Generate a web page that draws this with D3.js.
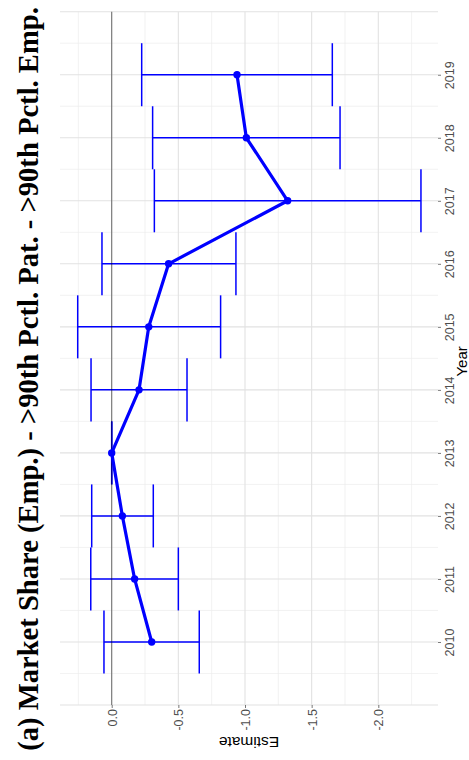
<!DOCTYPE html>
<html>
<head>
<meta charset="utf-8">
<script src="https://cdn.jsdelivr.net/npm/d3@7"></script>
<style>
  body { margin: 0; background: #fff; }
  svg { display: block; }
</style>
</head>
<body>
<script>
// Event-study estimates by year with confidence bounds
const years      = [2010, 2011, 2012, 2013, 2014, 2015, 2016, 2017, 2018, 2019];
const estimates  = [-0.30, -0.172, -0.08, 0.0, -0.205, -0.278, -0.427, -1.32, -1.01, -0.94];
const ciUpper    = [0.058, 0.157, 0.15, 0.0, 0.155, 0.255, 0.073, -0.32, -0.307, -0.225];
const ciLower    = [-0.657, -0.50, -0.312, 0.0, -0.565, -0.817, -0.932, -2.32, -1.713, -1.655];

const yearTicks          = [2010, 2011, 2012, 2013, 2014, 2015, 2016, 2017, 2018, 2019];
const estimateTicks      = [0, -0.5, -1.0, -1.5, -2.0];
const estimateTickLabels = ["0.0", "-0.5", "-1.0", "-1.5", "-2.0"];

const titleText = "(a) Market Share (Emp.) - >90th Pctl. Pat. - >90th Pctl. Emp.";
const yearTitle = "Year";
const estimateTitle = "Estimate";

const W = 469, H = 760;
const svg = d3.select("body").append("svg")
  .attr("width", W).attr("height", H)
  .style("font-family", "'Liberation Sans', Arial, sans-serif");

// The figure is laid out sideways: years run up the page, estimates run leftwards.
const panel = { left: 60, right: 438, top: 11.7, bottom: 705 };
const y = d3.scaleLinear().domain([2009, 2020]).range([panel.bottom, panel.top]);
const x = d3.scaleLinear().domain([0, -2]).range([111.7, 378.3]);

const estMax = x.invert(panel.left);
const estMin = x.invert(panel.right);

const grid = svg.append("g");

// minor grid
const minorYears = d3.range(2009.5, 2020, 1);
grid.selectAll("line.ymin").data(minorYears).join("line")
  .attr("x1", panel.left).attr("x2", panel.right)
  .attr("y1", d => y(d)).attr("y2", d => y(d))
  .attr("stroke", "#ececec").attr("stroke-width", 0.7);
const minorEst = d3.range(0.25, estMin, -0.5).filter(v => v <= estMax);
grid.selectAll("line.xmin").data(minorEst).join("line")
  .attr("x1", d => x(d)).attr("x2", d => x(d))
  .attr("y1", panel.top).attr("y2", panel.bottom)
  .attr("stroke", "#ececec").attr("stroke-width", 0.7);

// major grid
const majorYears = d3.range(2009, 2021, 1);
grid.selectAll("line.ymaj").data(majorYears).join("line")
  .attr("x1", panel.left).attr("x2", panel.right)
  .attr("y1", d => y(d)).attr("y2", d => y(d))
  .attr("stroke", "#e2e2e2").attr("stroke-width", 1.1);
grid.selectAll("line.xmaj").data(estimateTicks).join("line")
  .attr("x1", d => x(d)).attr("x2", d => x(d))
  .attr("y1", panel.top).attr("y2", panel.bottom)
  .attr("stroke", "#e2e2e2").attr("stroke-width", 1.1);

const rows = years.map((yr, i) => ({ yr, est: estimates[i], hi: ciUpper[i], lo: ciLower[i] }));

// error bars
const eb = svg.append("g").attr("stroke", "#0000ff").attr("stroke-width", 1.5).attr("fill", "none");
rows.forEach(d => {
  const g = eb.append("g");
  g.append("line").attr("x1", x(d.hi)).attr("x2", x(d.lo)).attr("y1", y(d.yr)).attr("y2", y(d.yr));
  g.append("line").attr("x1", x(d.hi)).attr("x2", x(d.hi)).attr("y1", y(d.yr - 0.5)).attr("y2", y(d.yr + 0.5));
  g.append("line").attr("x1", x(d.lo)).attr("x2", x(d.lo)).attr("y1", y(d.yr - 0.5)).attr("y2", y(d.yr + 0.5));
});

// reference line at zero
svg.append("line")
  .attr("x1", x(0)).attr("x2", x(0))
  .attr("y1", panel.top).attr("y2", panel.bottom)
  .attr("stroke", "#000").attr("stroke-opacity", 0.5).attr("stroke-width", 1.1);

// estimate path and points
svg.append("path").datum(rows)
  .attr("d", d3.line().x(d => x(d.est)).y(d => y(d.yr)))
  .attr("fill", "none").attr("stroke", "#0000ff").attr("stroke-width", 3.2)
  .attr("stroke-linejoin", "round");
svg.selectAll("circle.pt").data(rows).join("circle")
  .attr("cx", d => x(d.est)).attr("cy", d => y(d.yr)).attr("r", 3.7)
  .attr("fill", "#0000ff");

// year axis (right side)
const yAxis = svg.append("g").attr("transform", `translate(${panel.right},0)`)
  .call(d3.axisRight(y).tickValues(yearTicks).tickFormat(d3.format("d")).tickSize(3).tickPadding(0));
yAxis.select(".domain").remove();
yAxis.selectAll(".tick line").attr("stroke", "#555").attr("stroke-width", 0.8);
yAxis.selectAll(".tick text")
  .attr("x", null).attr("dy", null)
  .attr("transform", "translate(15.5,0) rotate(-90)")
  .attr("text-anchor", "middle")
  .attr("fill", "#4d4d4d").style("font-size", "12.5px");

// estimate axis (bottom)
const xAxis = svg.append("g").attr("transform", `translate(0,${panel.bottom})`)
  .call(d3.axisBottom(x).tickValues(estimateTicks).tickFormat((d, i) => estimateTickLabels[i]).tickSize(3).tickPadding(0));
xAxis.select(".domain").remove();
xAxis.selectAll(".tick line").attr("stroke", "#555").attr("stroke-width", 0.8);
xAxis.selectAll(".tick text")
  .attr("y", null).attr("dy", null)
  .attr("transform", "translate(4.5,4) rotate(-90)")
  .attr("text-anchor", "end")
  .attr("fill", "#4d4d4d").style("font-size", "12.5px");

// axis titles
svg.append("text")
  .attr("transform", `translate(467,${(panel.top + panel.bottom) / 2 + 3}) rotate(-90)`)
  .attr("text-anchor", "middle").style("font-size", "15px").attr("fill", "#000")
  .text(yearTitle);
svg.append("text")
  .attr("transform", `translate(${(panel.left + panel.right) / 2},737) rotate(180)`)
  .attr("text-anchor", "middle").style("font-size", "15.5px").attr("fill", "#000")
  .text(estimateTitle);

// title
svg.append("text")
  .attr("transform", "translate(38,379) rotate(-90)")
  .attr("text-anchor", "middle")
  .style("font-family", "'Liberation Serif', 'Times New Roman', serif")
  .style("font-weight", "bold").style("font-size", "28.6px")
  .text(titleText);
</script>
</body>
</html>
